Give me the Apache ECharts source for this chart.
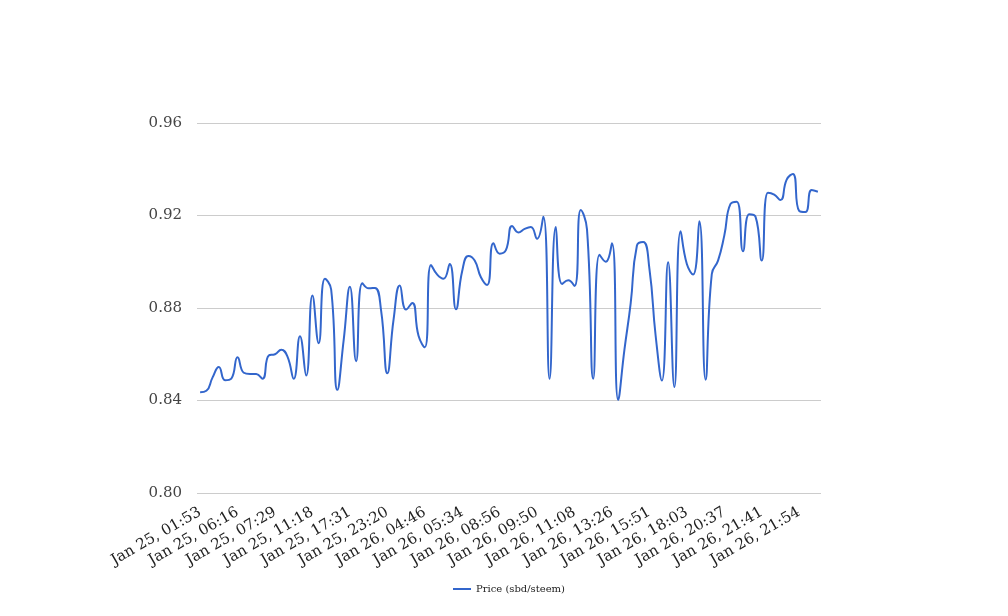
<!DOCTYPE html>
<html>
<head>
<meta charset="utf-8">
<script src="https://cdn.jsdelivr.net/npm/echarts@6/dist/echarts.min.js"></script>
<style>
html,body{margin:0;padding:0;background:#fff;}
#chart{width:1008px;height:616px;}
</style>
</head>
<body>
<div id="chart"></div>
<script>
const seriesName = 'Price (sbd/steem)';
const tickLabels = ['Jan 25, 01:53','Jan 25, 06:16','Jan 25, 07:29','Jan 25, 11:18','Jan 25, 17:31','Jan 25, 23:20','Jan 26, 04:46','Jan 26, 05:34','Jan 26, 08:56','Jan 26, 09:50','Jan 26, 11:08','Jan 26, 13:26','Jan 26, 15:51','Jan 26, 18:03','Jan 26, 20:37','Jan 26, 21:41','Jan 26, 21:54'];
const labelEvery = 6;
const prices = [
0.8436,0.8442,0.850,0.8545,0.8488,0.8495,0.8587,0.852,0.8515,0.8515,
0.8494,0.8595,0.860,0.862,0.859,0.8494,0.8678,0.8508,0.8854,0.8648,
0.8926,0.888,0.8446,0.866,0.8892,0.857,0.8907,0.8885,0.8887,0.879,
0.8518,0.875,0.8897,0.8793,0.8822,0.868,0.863,0.8986,0.8944,0.8926,
0.899,0.8795,0.896,0.9025,0.9005,0.8933,0.890,0.908,0.9035,0.905,
0.9155,0.9127,0.9142,0.915,0.910,0.9195,0.8494,0.915,0.8904,0.892,
0.8895,0.9224,0.914,0.8494,0.903,0.900,0.908,0.8403,0.862,0.882,
0.907,0.9085,0.897,0.868,0.8486,0.8998,0.8458,0.9132,0.899,0.8945,
0.9175,0.849,0.8947,0.9005,0.9113,0.925,0.926,0.9045,0.9205,0.9195,
0.9005,0.9298,0.929,0.9267,0.9355,0.938,0.922,0.9215,0.931,0.9303
];
const yTicks = {min: 0.80, max: 0.96, step: 0.04};

const categories = prices.map((_, i) => (i % labelEvery === 0 && tickLabels[i / labelEvery]) ? tickLabels[i / labelEvery] : ('p' + i));
const font = 'DejaVu Serif';
const chart = echarts.init(document.getElementById('chart'));
chart.setOption({
  animation: false,
  backgroundColor: '#ffffff',
  grid: {left: 197, right: 187, top: 123, bottom: 123, containLabel: false},
  legend: {
    data: [seriesName],
    left: 448, top: 579,
    icon: 'rect', itemWidth: 18, itemHeight: 2, itemGap: 6,
    textStyle: {fontFamily: font, fontSize: 10, color: '#222'}
  },
  xAxis: {
    type: 'category',
    data: categories,
    boundaryGap: true,
    axisLine: {show: false},
    axisTick: {show: false},
    splitLine: {show: false},
    axisLabel: {
      interval: labelEvery - 1,
      rotate: 30,
      margin: 18,
      fontFamily: font,
      fontSize: 15,
      color: '#222',
      formatter: (v, idx) => (idx % labelEvery === 0 ? tickLabels[idx / labelEvery] : '')
    }
  },
  yAxis: {
    type: 'value',
    min: yTicks.min, max: yTicks.max, interval: yTicks.step,
    axisLine: {show: false},
    axisTick: {show: false},
    splitLine: {lineStyle: {color: '#cccccc', width: 1}},
    axisLabel: {
      margin: 15,
      fontFamily: font, fontSize: 15, color: '#444',
      formatter: v => v.toFixed(2)
    }
  },
  series: [{
    name: seriesName,
    type: 'line',
    data: prices,
    smooth: 0.5,
    symbol: 'none',
    showSymbol: false,
    lineStyle: {color: '#3366cc', width: 2},
    itemStyle: {color: '#3366cc'}
  }]
});
</script>
</body>
</html>
